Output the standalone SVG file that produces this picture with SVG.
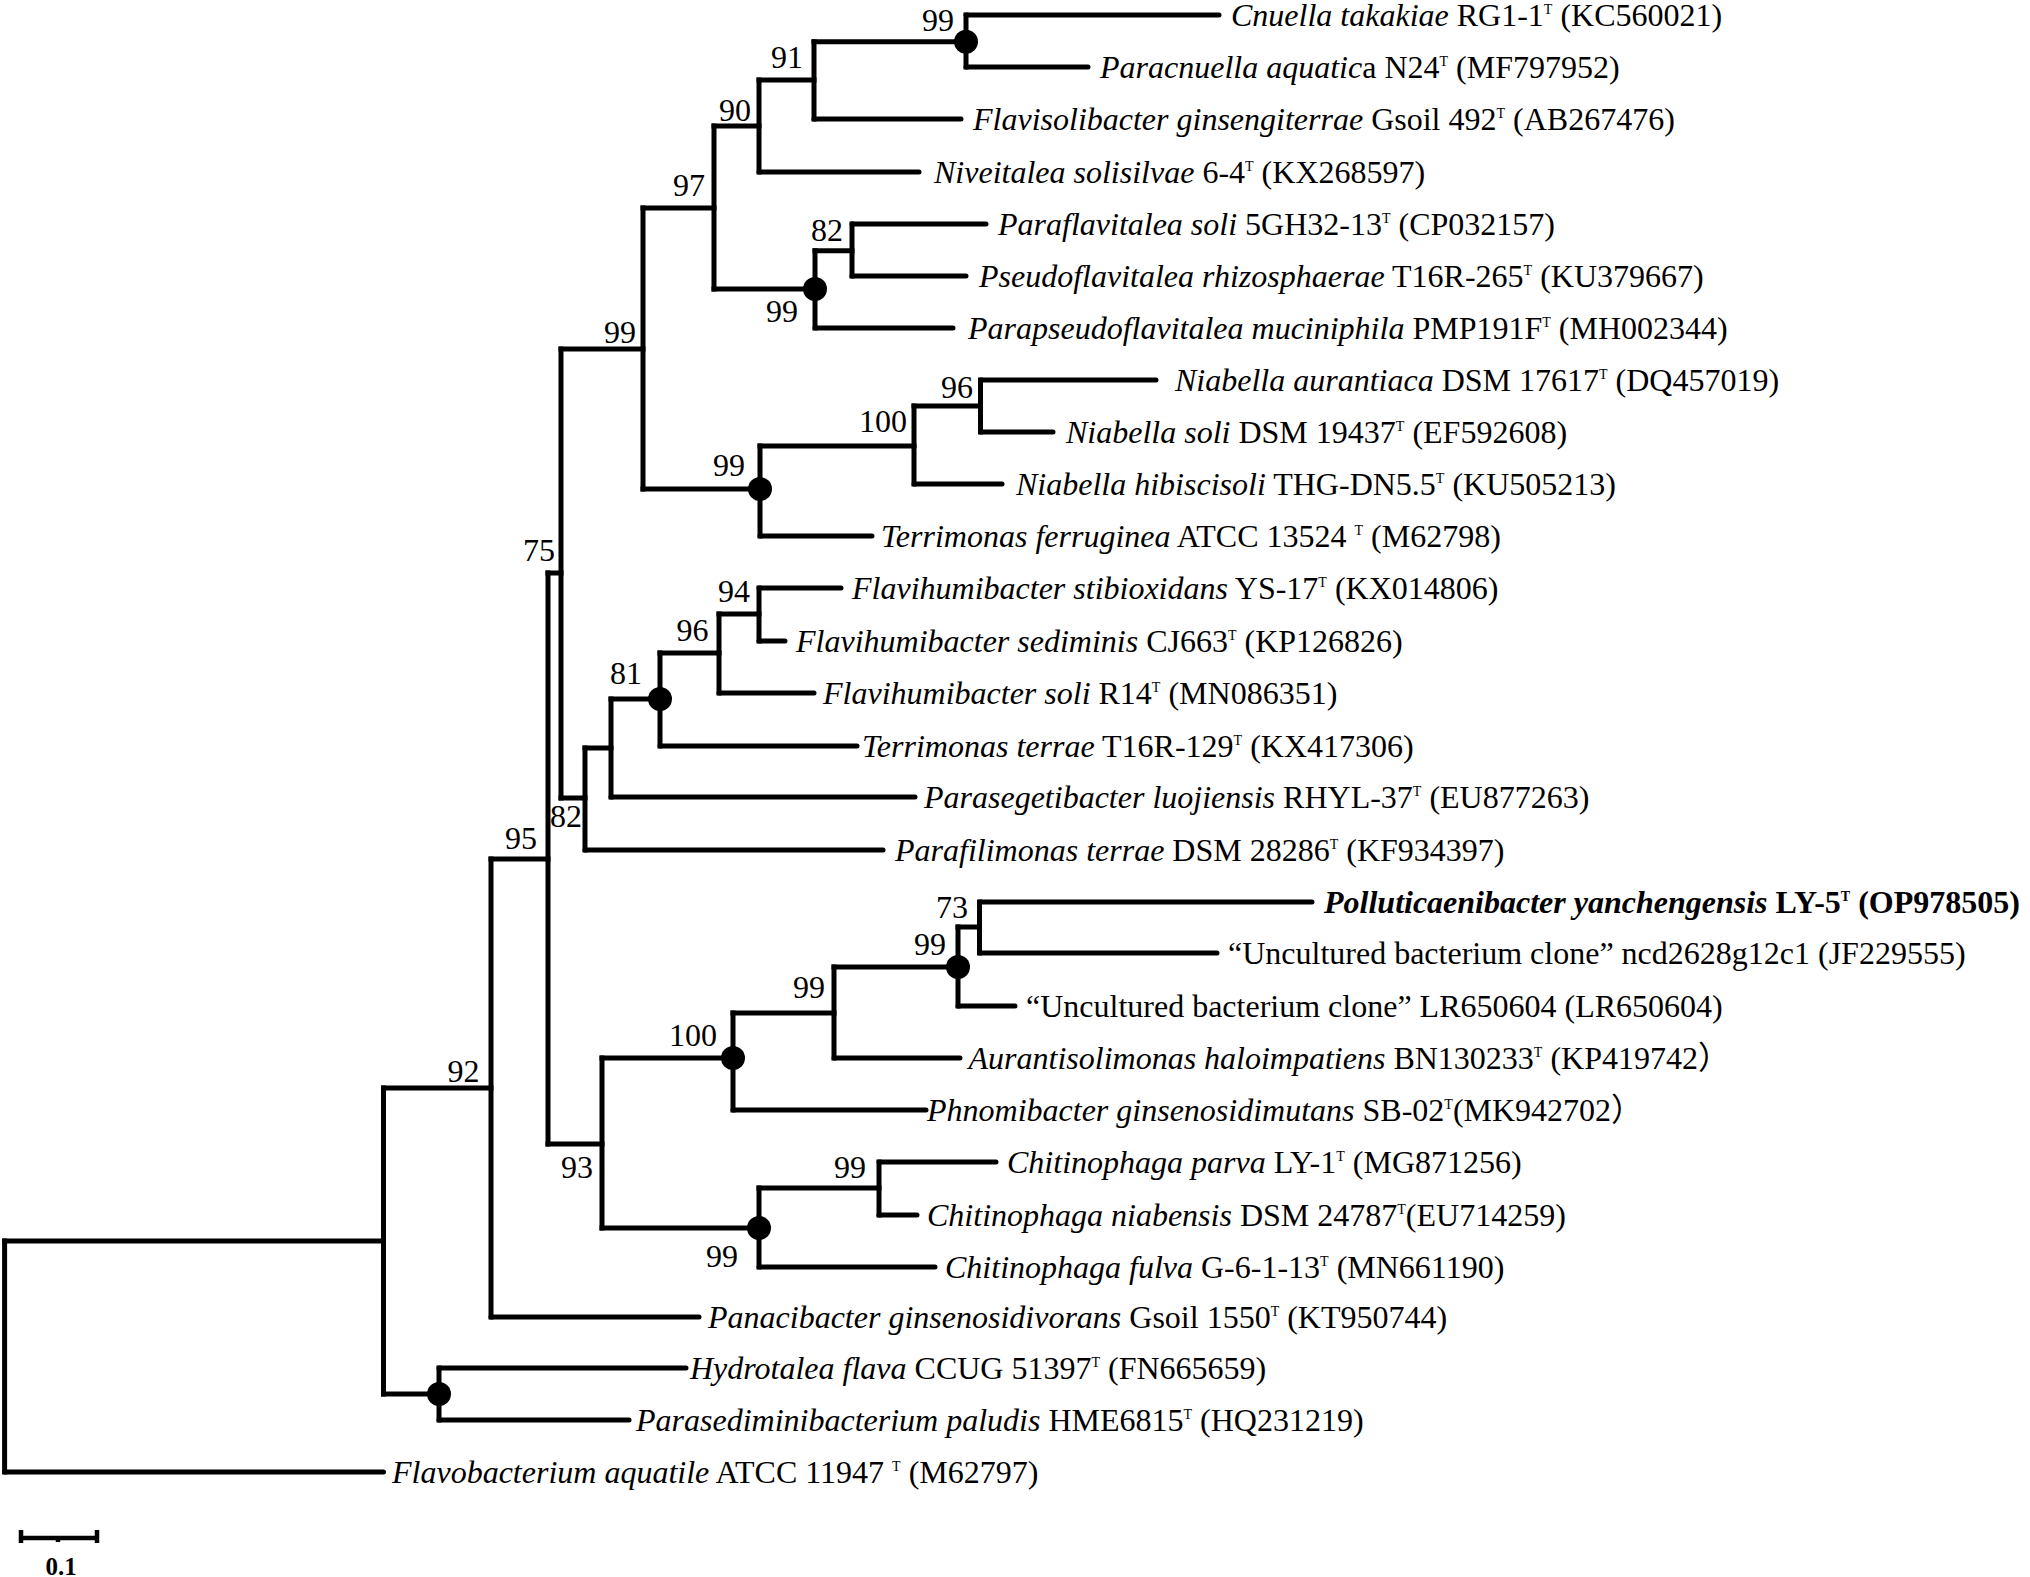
<svg xmlns="http://www.w3.org/2000/svg" width="2030" height="1577" viewBox="0 0 2030 1577">
<style>
text{font-family:"Liberation Serif","Noto Sans CJK SC",serif;font-size:32px;fill:#000}
.i{font-style:italic}
.s{font-size:14px}
.b{font-weight:bold}
.bs{text-anchor:end}
.br path{fill:none;stroke:#000;stroke-width:5;stroke-linecap:square}
.lf path{fill:none;stroke:#000;stroke-width:5;stroke-linecap:round}
.dot{fill:#000}
</style>
<rect width="2030" height="1577" fill="#fff"/>
<g id="connectors">
<g class="br">
<path d="M966 15V67M814 41.7V119M759 80V172M852 224V276M815 250.7V328M714 126V289M980.5 380V432M914 406V484M760 446V536M643 208V489M759 588V641M719 614V693M660 653V746M611 699V797M585 748V850M561 349V798M979.5 902V953M958 927V1006M834 967V1058M733 1013V1110M879 1162V1215M759 1188V1267M602 1058V1228M548 573V1144M491 859V1317M439 1368V1420M383.5 1088V1394M4.6 1241V1472"/>
<path d="M814 41.7H966M759 80H814M714 126H759M815 250.7H852M714 289H815M643 208H714M914 406H980.5M760 446H914M643 489H760M561 349H643M719 614H759M660 653H719M611 699H660M585 748H611M561 798H585M548 573H561M958 927H979.5M834 967H958M733 1013H834M602 1058H733M759 1188H879M602 1228H759M548 1144H602M491 859H548M383.5 1088H491M383.5 1394H439M4.6 1241H383.5"/>
</g>
<g class="lf">
<path d="M966 15H1219M966 67H1088M814 119H961M759 172H919M852 224H986M852 276H966M815 328H953M980.5 380H1156M980.5 432H1053M914 484H1002M760 536H872M759 588H841M759 641H785M719 693H814M660 746H857M611 797H915M585 850H883M979.5 902H1312M979.5 953H1217M958 1006H1015M834 1058H960M733 1110H926M879 1162H996M879 1215H917M759 1267H935M491 1317H699M439 1368H686M439 1420H629M4.6 1472H383.5"/>
</g>
</g>
<g id="internal-nodes">
<g id="n1"><ellipse class="dot" cx="966" cy="41.7" rx="12" ry="12"/><text class="bs" x="954" y="31">99</text></g>
<g id="n2"><text class="bs" x="803" y="68">91</text></g>
<g id="n3"><text class="bs" x="751" y="121">90</text></g>
<g id="n4"><text class="bs" x="705" y="196">97</text></g>
<g id="n5"><text class="bs" x="843" y="241">82</text></g>
<g id="n6"><ellipse class="dot" cx="815" cy="289" rx="12" ry="12"/><text class="bs" x="798" y="322">99</text></g>
<g id="n7"><text class="bs" x="636" y="343">99</text></g>
<g id="n8"><text class="bs" x="973" y="398">96</text></g>
<g id="n9"><text class="bs" x="907" y="432">100</text></g>
<g id="n10"><ellipse class="dot" cx="760" cy="489" rx="12" ry="12"/><text class="bs" x="745" y="476">99</text></g>
<g id="n11"><text class="bs" x="555" y="561">75</text></g>
<g id="n12"><text class="bs" x="750" y="602">94</text></g>
<g id="n13"><text class="bs" x="708.5" y="641">96</text></g>
<g id="n14"><ellipse class="dot" cx="660" cy="699" rx="12" ry="12"/><text class="bs" x="642" y="684">81</text></g>
<g id="n15"><text class="bs" x="582" y="827">82</text></g>
<g id="n16"><text class="bs" x="537" y="849">95</text></g>
<g id="n17"><text class="bs" x="968" y="918">73</text></g>
<g id="n18"><ellipse class="dot" cx="958" cy="967" rx="12" ry="12"/><text class="bs" x="946" y="955">99</text></g>
<g id="n19"><text class="bs" x="825" y="998">99</text></g>
<g id="n20"><ellipse class="dot" cx="733" cy="1058" rx="12" ry="12"/><text class="bs" x="717" y="1046">100</text></g>
<g id="n21"><text class="bs" x="593" y="1178">93</text></g>
<g id="n22"><text class="bs" x="866" y="1178">99</text></g>
<g id="n23"><ellipse class="dot" cx="759" cy="1228" rx="12" ry="12"/><text class="bs" x="738" y="1267">99</text></g>
<g id="n24"><text class="bs" x="479.5" y="1082">92</text></g>
<g id="n25"><ellipse class="dot" cx="439" cy="1394" rx="12" ry="12"/></g>
</g>
<g id="taxa">
<g id="t1"><text x="1231" y="25.5"><tspan class="i">Cnuella takakiae</tspan> RG1-1<tspan class="s" dy="-12">T</tspan><tspan dy="12"> (KC560021)</tspan></text></g>
<g id="t2"><text x="1100" y="77.5"><tspan class="i">Paracnuella aquatic</tspan>a N24<tspan class="s" dy="-12">T</tspan><tspan dy="12"> (MF797952)</tspan></text></g>
<g id="t3"><text x="973" y="129.5"><tspan class="i">Flavisolibacter ginsengiterrae</tspan> Gsoil 492<tspan class="s" dy="-12">T</tspan><tspan dy="12"> (AB267476)</tspan></text></g>
<g id="t4"><text x="934" y="182.5"><tspan class="i">Niveitalea solisilvae</tspan> 6-4<tspan class="s" dy="-12">T</tspan><tspan dy="12"> (KX268597)</tspan></text></g>
<g id="t5"><text x="998" y="234.5"><tspan class="i">Paraflavitalea soli</tspan> 5GH32-13<tspan class="s" dy="-12">T</tspan><tspan dy="12"> (CP032157)</tspan></text></g>
<g id="t6"><text x="979" y="286.5"><tspan class="i">Pseudoflavitalea rhizosphaerae</tspan> T16R-265<tspan class="s" dy="-12">T</tspan><tspan dy="12"> (KU379667)</tspan></text></g>
<g id="t7"><text x="968" y="338.5"><tspan class="i">Parapseudoflavitalea muciniphila</tspan> PMP191F<tspan class="s" dy="-12">T</tspan><tspan dy="12"> (MH002344)</tspan></text></g>
<g id="t8"><text x="1175" y="390.5"><tspan class="i">Niabella aurantiaca</tspan> DSM 17617<tspan class="s" dy="-12">T</tspan><tspan dy="12"> (DQ457019)</tspan></text></g>
<g id="t9"><text x="1066" y="442.5"><tspan class="i">Niabella soli</tspan> DSM 19437<tspan class="s" dy="-12">T</tspan><tspan dy="12"> (EF592608)</tspan></text></g>
<g id="t10"><text x="1016" y="494.5"><tspan class="i">Niabella hibiscisoli</tspan> THG-DN5.5<tspan class="s" dy="-12">T</tspan><tspan dy="12"> (KU505213)</tspan></text></g>
<g id="t11"><text x="881" y="546.5"><tspan class="i">Terrimonas ferruginea</tspan>  ATCC 13524 <tspan class="s" dy="-12">T</tspan><tspan dy="12"> (M62798)</tspan></text></g>
<g id="t12"><text x="852" y="598.5"><tspan class="i">Flavihumibacter stibioxidans</tspan> YS-17<tspan class="s" dy="-12">T</tspan><tspan dy="12"> (KX014806)</tspan></text></g>
<g id="t13"><text x="796" y="651.5"><tspan class="i">Flavihumibacter sediminis</tspan> CJ663<tspan class="s" dy="-12">T</tspan><tspan dy="12"> (KP126826)</tspan></text></g>
<g id="t14"><text x="823" y="703.5"><tspan class="i">Flavihumibacter soli</tspan> R14<tspan class="s" dy="-12">T</tspan><tspan dy="12"> (MN086351)</tspan></text></g>
<g id="t15"><text x="862" y="756.5"><tspan class="i">Terrimonas terrae</tspan>  T16R-129<tspan class="s" dy="-12">T</tspan><tspan dy="12"> (KX417306)</tspan></text></g>
<g id="t16"><text x="924" y="807.5"><tspan class="i">Parasegetibacter luojiensis</tspan> RHYL-37<tspan class="s" dy="-12">T</tspan><tspan dy="12"> (EU877263)</tspan></text></g>
<g id="t17"><text x="895" y="860.5"><tspan class="i">Parafilimonas terrae</tspan> DSM 28286<tspan class="s" dy="-12">T</tspan><tspan dy="12"> (KF934397)</tspan></text></g>
<g id="t18"><text class="b" x="1324" y="912.5"><tspan class="i">Polluticaenibacter yanchengensis</tspan> LY-5<tspan class="s" dy="-12">T</tspan><tspan dy="12"> (OP978505)</tspan></text></g>
<g id="t19"><text x="1228" y="963.5">“Uncultured bacterium clone” ncd2628g12c1 (JF229555)</text></g>
<g id="t20"><text x="1026" y="1016.5">“Uncultured bacterium clone” LR650604 (LR650604)</text></g>
<g id="t21"><text x="968.5" y="1068.5"><tspan class="i">Aurantisolimonas haloimpatiens</tspan> BN130233<tspan class="s" dy="-12">T</tspan><tspan dy="12"> (KP419742）</tspan></text></g>
<g id="t22"><text x="927" y="1120.5"><tspan class="i">Phnomibacter ginsenosidimutans</tspan> SB-02<tspan class="s" dy="-12">T</tspan><tspan dy="12">(MK942702）</tspan></text></g>
<g id="t23"><text x="1007" y="1172.5"><tspan class="i">Chitinophaga parva</tspan> LY-1<tspan class="s" dy="-12">T</tspan><tspan dy="12"> (MG871256)</tspan></text></g>
<g id="t24"><text x="927" y="1225.5"><tspan class="i">Chitinophaga niabensis</tspan> DSM 24787<tspan class="s" dy="-12">T</tspan><tspan dy="12">(EU714259)</tspan></text></g>
<g id="t25"><text x="945" y="1277.5"><tspan class="i">Chitinophaga fulva</tspan> G-6-1-13<tspan class="s" dy="-12">T</tspan><tspan dy="12"> (MN661190)</tspan></text></g>
<g id="t26"><text x="708" y="1327.5"><tspan class="i">Panacibacter ginsenosidivorans</tspan> Gsoil 1550<tspan class="s" dy="-12">T</tspan><tspan dy="12"> (KT950744)</tspan></text></g>
<g id="t27"><text x="690" y="1378.5"><tspan class="i">Hydrotalea flava</tspan> CCUG 51397<tspan class="s" dy="-12">T</tspan><tspan dy="12"> (FN665659)</tspan></text></g>
<g id="t28"><text x="636" y="1430.5"><tspan class="i">Parasediminibacterium paludis</tspan> HME6815<tspan class="s" dy="-12">T</tspan><tspan dy="12"> (HQ231219)</tspan></text></g>
<g id="t29"><text x="392" y="1482.5"><tspan class="i">Flavobacterium aquatile</tspan> ATCC 11947 <tspan class="s" dy="-12">T</tspan><tspan dy="12"> (M62797)</tspan></text></g>
</g>
<g id="scale-bar">
<path d="M21 1538H97M21 1530V1543M97 1530V1543M58 1538V1542" fill="none" stroke="#000" stroke-width="4.5"/>
<text class="b" x="61" y="1575" text-anchor="middle" style="font-size:25px">0.1</text>
</g>
</svg>
